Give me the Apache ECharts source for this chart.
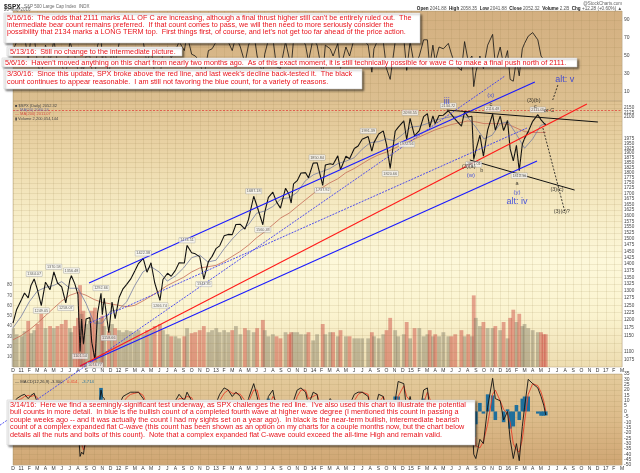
<!DOCTYPE html>
<html><head><meta charset="utf-8">
<script src="https://cdn.jsdelivr.net/npm/echarts@6/dist/echarts.min.js"></script>
<style>html,body{margin:0;padding:0;background:#fff}#c{width:640px;height:473px}</style>
</head><body><div id="c"></div>
<script>
// ---------- DATA ----------
const dates = ['2010-12-01','2010-12-15','2011-01-03','2011-01-14','2011-01-28','2011-02-07','2011-02-18','2011-03-01','2011-03-16','2011-04-01',
'2011-04-18','2011-05-02','2011-05-16','2011-06-01','2011-06-16','2011-07-01','2011-07-07','2011-07-20','2011-08-01','2011-08-09',
'2011-08-15','2011-08-22','2011-09-01','2011-09-15','2011-09-22','2011-10-04','2011-10-14','2011-10-27','2011-11-01','2011-11-08',
'2011-11-25','2011-12-07','2011-12-19','2012-01-03','2012-01-18','2012-02-01','2012-02-15','2012-03-01','2012-03-15','2012-04-02',
'2012-04-16','2012-05-01','2012-05-15','2012-06-04','2012-06-15','2012-07-02','2012-07-16','2012-08-01','2012-08-15','2012-09-04',
'2012-09-14','2012-10-01','2012-10-15','2012-11-01','2012-11-16','2012-12-03','2012-12-17','2013-01-02','2013-01-15','2013-02-01',
'2013-02-15','2013-03-01','2013-03-15','2013-04-01','2013-04-18','2013-05-01','2013-05-21','2013-06-03','2013-06-24','2013-07-01',
'2013-07-15','2013-08-01','2013-08-15','2013-08-30','2013-09-18','2013-10-01','2013-10-09','2013-10-18','2013-11-01','2013-11-15',
'2013-12-02','2013-12-13','2013-12-31','2014-01-15','2014-02-05','2014-02-14','2014-03-03','2014-03-14','2014-04-01','2014-04-11',
'2014-05-01','2014-05-15','2014-06-02','2014-06-16','2014-07-01','2014-07-24','2014-08-07','2014-08-15','2014-09-02','2014-09-19',
'2014-10-01','2014-10-15','2014-11-03','2014-11-14','2014-12-05','2014-12-16','2014-12-29','2015-01-15','2015-02-02','2015-02-17',
'2015-03-02','2015-03-11','2015-03-23','2015-04-01','2015-04-15','2015-05-01','2015-05-20','2015-06-01','2015-06-15','2015-07-08',
'2015-07-20','2015-08-03','2015-08-17','2015-08-24','2015-09-01','2015-09-16','2015-09-29','2015-10-15','2015-11-03','2015-11-13',
'2015-12-01','2015-12-14','2015-12-29','2016-01-08','2016-01-20','2016-02-01','2016-02-11','2016-02-22','2016-03-01','2016-03-15',
'2016-04-01','2016-04-20','2016-05-02','2016-05-12','2016-05-20'];
const closes = [1190,1236,1271,1293,1276,1320,1344,1306,1249,1332,
1305,1370,1329,1315,1258,1340,1356,1326,1287,1101,
1204,1123,1204,1209,1130,1075,1224,1292,1218,1275,
1159,1261,1205,1277,1308,1324,1343,1374,1402,1422,
1369,1405,1330,1267,1342,1365,1354,1376,1405,1404,
1474,1444,1440,1428,1343,1410,1430,1462,1472,1513,
1519,1518,1561,1562,1541,1582,1687,1640,1560,1614,
1682,1706,1661,1633,1725,1695,1656,1745,1761,1798,
1800,1775,1848,1850,1738,1838,1845,1841,1885,1815,
1883,1870,1924,1937,1973,1988,1910,1955,2002,2019,
1946,1821,2017,2039,2075,1972,2090,1992,2020,2100,
2117,2040,2104,2059,2106,2108,2134,2111,2084,2046,
2128,2098,2102,1867,1914,1996,1884,2023,2116,2023,
2103,2021,2078,1922,1859,1940,1810,1946,1978,2015,
2073,2111,2081,2064,2052];
const volumes = [38,32,30,35,45,33,36,42,52,38,
40,38,40,42,46,38,34,40,48,80,
52,55,42,45,55,58,45,48,50,40,
35,42,38,36,34,36,35,34,36,32,
36,36,40,42,36,32,30,30,28,30,
38,33,34,36,40,34,36,38,34,36,
34,36,40,32,38,36,34,38,46,36,
30,32,30,28,34,32,34,34,34,32,
32,34,26,32,42,32,34,34,30,36,
30,30,28,28,28,28,34,30,28,32,
36,48,36,30,32,44,28,38,38,30,
32,36,30,32,30,34,30,30,32,36,
30,32,30,70,48,40,44,38,38,40,
36,44,28,48,56,44,52,40,42,38,
36,34,34,32,32];
const rsiVals = [56,66,70,72,46,70,72,42,28,62,
44,68,42,40,28,66,68,50,34,14,
44,34,50,50,36,28,62,72,44,60,
28,58,42,64,70,68,70,68,74,66,
42,58,30,26,56,60,48,56,66,56,
74,52,50,44,26,56,58,66,68,74,
66,56,72,60,42,62,76,50,30,52,
68,70,38,36,66,48,38,68,66,72,
62,44,70,62,28,62,58,50,64,36,
60,50,70,66,70,62,32,58,70,66,
36,24,66,74,70,34,66,38,50,68,
68,38,62,44,60,58,64,52,40,34,
66,44,50,16,32,50,36,62,74,40,
60,40,56,24,22,46,28,58,64,72,
76,68,50,46,44];
const macdVals = [6,12,15,16,12,15,17,8,-6,6,
4,10,4,-6,-14,2,8,4,-10,-42,
-38,-40,-22,-16,-22,-30,-6,20,14,12,
-14,0,-4,6,14,16,18,18,18,12,
-2,4,-16,-26,-8,4,6,10,16,10,
18,10,2,-4,-20,-2,8,8,16,22,
20,14,18,14,2,12,26,14,-14,-6,
14,20,2,-10,10,4,-6,10,20,22,
18,6,18,16,-16,4,12,8,10,-6,
6,6,16,18,18,14,-12,-2,16,14,
-4,-30,10,28,26,0,14,-6,-4,20,
22,2,8,2,8,6,8,6,-6,-14,
8,0,-2,-40,-44,-26,-30,4,31,12,
10,-8,0,-26,-44,-30,-46,-14,4,30,
26,22,14,6,-3.3];
const signalVals = [8,10,12,14,15,14,15,13,5,2,
4,7,6,0,-8,-4,0,3,-2,-18,
-30,-36,-30,-20,-20,-24,-16,-2,8,11,
-2,-4,-3,0,8,13,16,17,18,15,
6,3,-6,-18,-14,-4,2,7,12,12,
14,13,6,0,-10,-8,0,6,10,17,
20,17,17,16,10,9,20,20,-2,-8,
2,14,10,-2,2,6,1,4,14,20,
20,12,14,16,-2,-4,6,8,8,2,
2,5,10,16,18,16,-2,-4,8,14,
6,-14,-4,14,24,14,10,2,-4,8,
18,12,6,4,5,6,6,7,0,-8,
-2,4,0,-16,-32,-34,-28,-12,16,20,
10,2,-2,-10,-30,-36,-38,-26,-10,16,
26,24,18,10,0.4];
const maDates = ['2010-12-01','2011-01-01','2011-02-01','2011-03-01','2011-04-01','2011-05-01','2011-06-01','2011-07-01','2011-08-01','2011-09-01','2011-10-01','2011-11-01','2011-12-01',
'2012-01-01','2012-02-01','2012-03-01','2012-04-01','2012-05-01','2012-06-01','2012-07-01','2012-08-01','2012-09-01','2012-10-01','2012-11-01','2012-12-01',
'2013-01-01','2013-02-01','2013-03-01','2013-04-01','2013-05-01','2013-06-01','2013-07-01','2013-08-01','2013-09-01','2013-10-01','2013-11-01','2013-12-01',
'2014-01-01','2014-02-01','2014-03-01','2014-04-01','2014-05-01','2014-06-01','2014-07-01','2014-08-01','2014-09-01','2014-10-01','2014-11-01','2014-12-01',
'2015-01-01','2015-02-01','2015-03-01','2015-04-01','2015-05-01','2015-06-01','2015-07-01','2015-08-01','2015-09-01','2015-10-01','2015-11-01','2015-12-01',
'2016-01-01','2016-02-01','2016-03-01','2016-04-01','2016-05-01','2016-05-20'];
const ma50 = [1175,1212,1262,1300,1313,1320,1334,1310,1310,1256,1190,1190,1230,
1235,1262,1320,1370,1390,1370,1336,1355,1385,1425,1435,1408,
1415,1460,1500,1535,1560,1610,1620,1640,1675,1680,1705,1760,
1790,1805,1820,1845,1858,1875,1920,1955,1960,1975,1965,2000,
2040,2045,2060,2080,2090,2100,2102,2095,2040,1975,1995,2060,
2070,2000,1925,1975,2050,2060];
const ma200 = [1137,1150,1168,1190,1215,1240,1265,1285,1295,1285,1270,1260,1255,
1250,1245,1250,1265,1282,1300,1320,1335,1350,1370,1385,1390,
1395,1410,1430,1450,1475,1505,1530,1560,1590,1610,1640,1670,
1700,1725,1750,1770,1800,1820,1845,1870,1890,1905,1925,1945,
1965,1985,2005,2025,2040,2055,2065,2075,2070,2060,2060,2060,
2055,2035,2015,2010,2010,2011];
// trendlines: [fromDate, fromPrice, toDate, toPrice]
const blueSolid = [['2011-09-12',1329,'2016-04-09',2309],['2011-08-09',1058,'2016-04-17',1859]];
const blueDotted = [['2010-10-13',899,'2015-12-19',2348],['2011-09-15',1191,'2016-03-10',2035]];
const redLine = [['2011-08-09',1058,'2016-10-22',2174]];
const blackSolid = [['2015-05-14',2138,'2016-12-02',2069],['2015-08-09',1864,'2016-09-06',1716]];
const blackDashed = [['2016-05-09',2035,'2016-07-31',1616],['2016-07-04',2290,'2016-06-15',2198]];
const allTimeHigh = 2134.72;
// wave labels: [date, price, text]
const waveBlueBig = [['2015-05-14',2186,'iii'],['2016-07-30',2328,'alt: v'],['2016-02-03',1661,'alt: iv']];
const waveBlueSmall = [['2015-10-27',2228,'(x)'],['2015-08-13',1789,'(w)'],['2016-02-03',1703,'(y)']];
const waveBlack = [['2015-10-27',2174,'c'],['2016-04-05',2198,'(3)(b)'],['2016-04-11',2162,'c'],['2016-06-01',2138,'or C'],
  ['2015-08-05',1833,'(3)(a)'],['2015-09-23',1810,'b'],['2016-02-03',1745,'a'],['2016-07-01',1721,'(3)(c)'],['2016-07-19',1616,'(3)(c)?']];
const highLabels = [['2011-02-18',1344.07],['2011-05-02',1370.58],['2011-07-07',1356.48],['2011-10-27',1292.66],['2012-04-02',1422.38],
  ['2012-09-14',1474.51],['2013-05-21',1687.18],['2014-01-15',1850.84],['2014-07-24',1991.39],['2014-12-29',2093.55],['2015-05-20',2134.72],
  ['2015-11-03',2116.48],['2016-04-20',2111.05]];
const lowLabels = [['2011-03-16',1249.05],['2011-06-16',1258.07],['2011-08-09',1101.54],['2011-10-04',1074.77],['2011-11-25',1158.66],
  ['2012-06-04',1266.74],['2012-11-16',1343.35],['2013-06-24',1560.33],['2014-02-05',1737.92],['2014-10-15',1820.66],['2014-12-16',1972.56],
  ['2015-08-24',1867.01],['2016-02-11',1810.10]];
const priceGrid = [1075,1100,1125,1150,1175,1200,1225,1250,1275,1300,1325,1350,1375,1400,1425,1450,1475,1500,1525,1550,1575,1600,1625,1650,1675,
  1700,1725,1750,1775,1800,1825,1850,1875,1900,1925,1950,1975,2000,2025,2050,2075,2100,2125,2150,2175];
const priceLabels = [1075,1100,1150,1175,1200,1225,1250,1275,1300,1325,1350,1375,1400,1425,1450,1475,1500,1525,1550,1575,1600,1625,1650,1675,
  1700,1725,1750,1775,1800,1825,1850,1875,1900,1925,1950,1975,2100,2125,2150];
const rsiTicks = [10,30,50,70,90];
const volTicks = [10,20,30,40,50,60,70,80];
const monthLetters = ['J','F','M','A','M','J','J','A','S','O','N','D'];
const lastClose = 2052.32, lastMA200 = 2011.07, lastVolume = 22;

const note1 = ["5/16/16:  The odds that 2111 marks ALL OF C are increasing, although a final thrust higher still can't be entirely ruled out.  The",
"intermediate bear count remains preferred.  If that count comes to pass, we will then need to more seriously consider the",
"possibility that 2134 marks a LONG TERM top.  First things first, of course, and let's not get too far ahead of the price action."];
const note2 = ["5/13/16:  Still no change to the intermediate picture."];
const note3 = ["5/6/16:  Haven't moved anything on this chart from nearly two months ago.  As of this exact moment, it is still technically possible for wave C to make a final push north of 2111."];
const note4 = ["3/30/16:  Since this update, SPX broke above the red line, and last week's decline back-tested it.  The black",
"count continues to appear reasonable.  I am still not favoring the blue count, for a variety of reasons."];
const note5 = ["3/14/16:  Here we find a seemingly-significant test underway, as SPX challenges the red line.  I've also used this chart to illustrate the potential",
"bull counts in more detail.  In blue is the bullish count of a completed fourth wave at higher wave degree (I mentioned this count in passing a",
"couple weeks ago -- and it was actually the count I had my sights set on a year ago).  In black is the near-term bullish, interemediate bearish",
"count of a complex expanded flat C-wave (this count has been shown as an option on my charts for a couple months now, but the chart below",
"details all the nuts and bolts of this count).  Note that a complex expanded flat C-wave could exceed the all-time High and remain valid."];

// ---------- HELPERS ----------
function toM(d){const [y,mo,da]=d.split('-').map(Number);const dim=new Date(y,mo,0).getDate();return (y-2011)*12+(mo-1)+(da-1)/dim;}
const FONT='Liberation Sans';
const NOTE_SIZE=7.25;
const grad=(stops)=>new echarts.graphic.LinearGradient(0,0,0,1,stops.map((c,i)=>({offset:i/(stops.length-1),color:c})));
const splitC='rgba(150,120,70,0.22)';
function monthFmt(v){const k=((v%12)+12)%12;if(k===0)return String(2011+Math.floor(v/12)).slice(2);return monthLetters[k];}
function xAx(i,showLabel){return {type:'value',gridIndex:i,min:-1,max:74,interval:1,
  axisLine:{show:false},axisTick:{show:false},
  axisLabel:{show:showLabel,formatter:monthFmt,fontSize:5,color:'#333',margin:1.5,fontFamily:FONT},
  splitLine:{show:true,lineStyle:{color:splitC,width:0.6}}};}
function segs(arr){return arr.map(s=>({coords:[[toM(s[0]),s[1]],[toM(s[2]),s[3]]]}));}
function linesSeries(arr,color,width,type,z){return {type:'lines',coordinateSystem:'cartesian2d',xAxisIndex:1,yAxisIndex:1,clip:false,
  polyline:false,silent:true,z:z||6,lineStyle:{color,width,type,opacity:1},data:segs(arr)};}
function labelSeries(arr,color,size,weight){return {type:'scatter',xAxisIndex:1,yAxisIndex:1,clip:false,symbolSize:1,silent:true,z:9,
  itemStyle:{color:'rgba(0,0,0,0)'},
  label:{show:true,position:'inside',formatter:p=>p.data[2],color,fontSize:size,fontWeight:weight||'normal',fontFamily:FONT},
  data:arr.map(a=>[toM(a[0]),a[1],a[2]])};}
function boxLabelSeries(arr,pos){return {type:'scatter',xAxisIndex:1,yAxisIndex:1,clip:false,symbolSize:1,silent:true,z:8,
  itemStyle:{color:'rgba(0,0,0,0)'},
  label:{show:true,position:pos,distance:2,formatter:p=>p.data[1].toFixed(2),fontSize:3.8,color:'#333',fontFamily:FONT,
    backgroundColor:'rgba(250,250,250,0.9)',borderColor:'#999',borderWidth:0.4,padding:[0.5,1]},
  data:arr.map(a=>[toM(a[0]),a[1]])};}
function noteBox(x,y,w,h,lines,lh){return {type:'group',z:100,children:[
  {type:'rect',z:100,shape:{x,y,width:w,height:h},style:{fill:'#fff',stroke:'#c8c8c8',lineWidth:0.5,shadowBlur:2,shadowOffsetX:1.5,shadowOffsetY:1.5,shadowColor:'rgba(0,0,0,0.45)'}},
  {type:'text',z:101,x:x+3,y:y+1,style:{text:lines.join('\n'),fill:'#e8141c',fontSize:NOTE_SIZE,fontFamily:FONT,lineHeight:lh,verticalAlign:'top'}}]};}

const priceData = dates.map((d,i)=>[toM(d),closes[i]]);
const volData = dates.map((d,i)=>({value:[toM(d),volumes[i]],itemStyle:{color:(i>0&&closes[i]<closes[i-1])?'rgba(205,80,70,0.5)':'rgba(120,115,95,0.42)'}}));
const rsiData = dates.map((d,i)=>[toM(d),rsiVals[i]]);
const macdData = dates.map((d,i)=>[toM(d),macdVals[i]]);
const sigData = dates.map((d,i)=>[toM(d),signalVals[i]]);
const histData = dates.map((d,i)=>[toM(d),macdVals[i]-signalVals[i]]);

const chart = echarts.init(document.getElementById('c'));
chart.setOption({
  animation:false,backgroundColor:'#fff',textStyle:{fontFamily:FONT},
  grid:[
    {left:13,right:18,top:11,height:90,show:true,borderWidth:0.5,borderColor:'#b8a680',backgroundColor:grad(['#d3af80','#dcbf90'])},
    {left:13,right:18,top:101,height:266,show:true,borderWidth:0.5,borderColor:'#b8a680',backgroundColor:grad(['#dfc292','#ebd6a8','#f6ebc4','#fdf8da','#fbf4d0','#eddcb0'])},
    {left:13,right:18,top:374,height:91,show:true,borderWidth:0.5,borderColor:'#b8a680',backgroundColor:grad(['#e4cb9c','#dcbb8a','#cfa573'])}
  ],
  xAxis:[xAx(0,false),xAx(1,true),xAx(2,true)],
  yAxis:[
    {type:'value',gridIndex:0,min:0,max:100,interval:10,position:'right',axisLine:{show:false},axisTick:{show:false},
      axisLabel:{fontSize:5,color:'#444',margin:2,formatter:v=>rsiTicks.includes(v)?String(v):''},splitLine:{lineStyle:{color:splitC,width:0.6}}},
    {type:'log',gridIndex:1,min:1055,max:2192,position:'right',axisLine:{show:false},axisTick:{show:false},axisLabel:{show:false},splitLine:{show:false}},
    {type:'value',gridIndex:1,min:0,max:260,interval:10,position:'left',axisLine:{show:false},axisTick:{show:false},
      axisLabel:{fontSize:4.5,color:'#555',margin:1,formatter:v=>volTicks.includes(v)?String(v):''},splitLine:{show:false}},
    {type:'value',gridIndex:2,min:-50,max:35,interval:5,position:'right',axisLine:{show:false},axisTick:{show:false},
      showMinLabel:false,showMaxLabel:false,axisLabel:{fontSize:5,color:'#444',margin:2},splitLine:{lineStyle:{color:splitC,width:0.6}}}
  ],
  series:[
    {type:'line',xAxisIndex:0,yAxisIndex:0,data:rsiData,symbol:'none',lineStyle:{color:'#111',width:0.8},z:3},
    {type:'bar',xAxisIndex:1,yAxisIndex:2,data:volData,barWidth:3.8,z:1},
    {type:'line',xAxisIndex:1,yAxisIndex:1,data:[],symbol:'none',z:1,
      markLine:{silent:true,symbol:'none',animation:false,
        data:priceGrid.map(v=>({yAxis:v,lineStyle:{color:splitC,width:0.6,type:'solid'},
          label:{show:priceLabels.includes(v),position:'end',formatter:String(v),fontSize:4.6,color:'#444',distance:2,fontFamily:FONT}}))}},
    {type:'line',xAxisIndex:1,yAxisIndex:1,data:maDates.map((d,i)=>[toM(d),ma200[i]]),symbol:'none',lineStyle:{color:'#c66a55',width:0.8},z:3},
    {type:'line',xAxisIndex:1,yAxisIndex:1,data:maDates.map((d,i)=>[toM(d),ma50[i]]),symbol:'none',lineStyle:{color:'#747ca6',width:0.8},z:3},
    {type:'line',xAxisIndex:1,yAxisIndex:1,data:priceData,symbol:'none',lineStyle:{color:'#111',width:1.1},z:4,
      markLine:{silent:true,symbol:'none',animation:false,data:[
        {yAxis:allTimeHigh,lineStyle:{color:'#e0453a',width:0.8,type:[2,1.5]},label:{show:false}},
        {yAxis:lastClose,lineStyle:{opacity:0},label:{position:'end',formatter:lastClose.toFixed(2),fontSize:4.6,color:'#fff',backgroundColor:'#777',padding:[0.5,1],distance:1}},
        {yAxis:lastMA200,lineStyle:{opacity:0},label:{position:'end',formatter:lastMA200.toFixed(2),fontSize:4.6,color:'#d02020',backgroundColor:'#fff',borderColor:'#d02020',borderWidth:0.5,padding:[0.5,1],distance:1}}
      ]}},
    {type:'line',xAxisIndex:1,yAxisIndex:2,data:[],symbol:'none',
      markLine:{silent:true,symbol:'none',animation:false,data:[{yAxis:lastVolume,lineStyle:{opacity:0},
        label:{position:'end',formatter:'2200054',fontSize:4.4,color:'#333',backgroundColor:'#eee',borderColor:'#888',borderWidth:0.5,padding:[0.5,1],distance:1}}]}},
    linesSeries(blueSolid,'#1a1aff',1.1,'solid',6),
    linesSeries(blueDotted,'#3c3cf0',0.9,[2,1.2],6),
    linesSeries(redLine,'#ff1a1a',1.1,'solid',6),
    linesSeries(blackSolid,'#111',1,'solid',6),
    linesSeries(blackDashed,'#111',0.8,[2,1.5],6),
    boxLabelSeries(highLabels,'top'),
    boxLabelSeries(lowLabels,'bottom'),
    labelSeries(waveBlueBig,'#1f2fe0',9,'normal'),
    labelSeries(waveBlueSmall,'#1f2fe0',6,'normal'),
    labelSeries(waveBlack,'#111',5.5,'normal'),
    {type:'bar',xAxisIndex:2,yAxisIndex:3,data:histData,barWidth:3.6,itemStyle:{color:'#1f6f9c'},z:2},
    {type:'line',xAxisIndex:2,yAxisIndex:3,data:sigData,symbol:'none',lineStyle:{color:'#e8402a',width:0.9},z:3},
    {type:'line',xAxisIndex:2,yAxisIndex:3,data:macdData,symbol:'none',lineStyle:{color:'#111',width:0.9},z:4}
  ],
  graphic:[
    {type:'text',x:4,y:1,z:50,style:{text:'{b|$SPX} {g|S&P 500 Large Cap Index  INDX}',verticalAlign:'top',rich:{b:{fontSize:6.5,fontWeight:'bold',fill:'#222',fontFamily:FONT},g:{fontSize:4.5,fill:'#666',fontFamily:FONT}}}},
    {type:'text',x:4,y:7,z:50,style:{text:'20-May-2016',fontSize:4.5,fill:'#666',fontFamily:FONT,verticalAlign:'top'}},
    {type:'text',x:622,y:1,z:50,style:{text:'@StockCharts.com',fontSize:4.5,fill:'#666',fontFamily:FONT,align:'right',verticalAlign:'top'}},
    {type:'text',x:622,y:6.5,z:50,style:{text:'{b|Open} 2041.88  {b|High} 2058.35  {b|Low} 2041.88  {b|Close} 2052.32  {b|Volume} 2.2B  {b|Chg} +12.28 (+0.60%) ▲',
      fontSize:4.6,fill:'#555',fontFamily:FONT,align:'right',verticalAlign:'top',rich:{b:{fontWeight:'bold',fill:'#222',fontSize:4.6,fontFamily:FONT}}}},
    {type:'text',x:15,y:103.5,z:50,style:{text:'{k|■ $SPX (Daily) 2052.32}\n{m|— MA(50) 2060.24}\n{r|— MA(200) 2011.07}\n{k|▮ Volume 2,200,054,144}',
      lineHeight:4.3,verticalAlign:'top',rich:{k:{fontSize:4,fill:'#444',fontFamily:FONT,lineHeight:4.3},m:{fontSize:4,fill:'#6a6fa0',fontFamily:FONT,lineHeight:4.3},r:{fontSize:4,fill:'#d05040',fontFamily:FONT,lineHeight:4.3}}}},
    {type:'text',x:15,y:376,z:50,style:{text:'{k|— MACD(12,26,9) -3.300,} {r|0.414,} {b|-3.714}',verticalAlign:'top',
      rich:{k:{fontSize:4.2,fill:'#333',fontFamily:FONT},r:{fontSize:4.2,fill:'#e8402a',fontFamily:FONT},b:{fontSize:4.2,fill:'#1f6f9c',fontFamily:FONT}}}},
    noteBox(4,13,416,30,note1,7),
    noteBox(7,47,175,9,note2,7),
    noteBox(2,58,575,9,note3,7),
    noteBox(4,69,358,20,note4,8),
    noteBox(7,400,468,45,note5,7.5)
  ]
});
</script></body></html>
